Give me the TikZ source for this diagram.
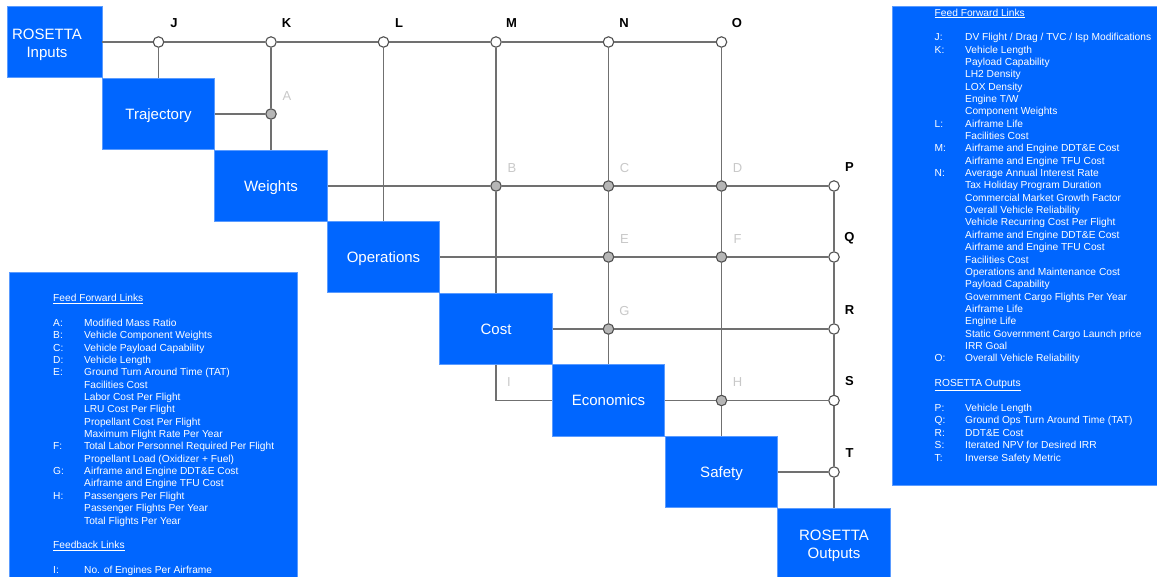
\documentclass[tikz,border=0pt]{standalone}
\usepackage{fontspec}
\setmainfont{Liberation Sans}
\definecolor{dsmblue}{RGB}{0,102,255}
\definecolor{edgeblue}{RGB}{90,155,255}
\definecolor{linkgray}{RGB}{112,112,112}
\definecolor{ringgray}{RGB}{80,80,80}
\definecolor{dotgray}{RGB}{182,182,182}
\definecolor{taggray}{RGB}{200,200,200}

\begin{document}
\begin{tikzpicture}[x=1pt,y=-1pt,
  blocktext/.style={text=white, font=\fontsize{15}{18}\selectfont, align=center,
    text height=12pt, text depth=1.26pt},
  twolines/.style={text height=30pt},
  block/.style={rectangle, fill=dsmblue, draw=edgeblue, line width=0.6pt,
    minimum width=112.5pt, minimum height=71.5pt, inner sep=0pt, blocktext},
  link/.style={draw=linkgray, line width=1.25pt},
  junction/.style={circle, minimum size=10.5pt, inner sep=0pt, draw=ringgray, line width=1.1pt},
  outjunc/.style={junction, fill=white},
  injunc/.style={junction, fill=dotgray},
  tagdark/.style={label={[font=\bfseries\fontsize{13}{15}\selectfont, text=black,
    anchor=center, xshift=15.5pt, yshift=19pt]center:#1}},
  taglight/.style={label={[font=\fontsize{13}{15}\selectfont, text=taggray,
    anchor=center, xshift=16pt, yshift=18pt]center:#1}},
  legendbox/.style={fill=dsmblue, draw=edgeblue, line width=0.8pt},
  legendtext/.style={text=white, inner sep=0pt, anchor=base west,
    font=\fontsize{10.2}{12.35}\selectfont},
]
\useasboundingbox (0,0) rectangle (1157,576);

% legend panels
\path[legendbox] (9.5,272) rectangle (297.5,590);
\path[legendbox] (892,6) rectangle (1170,485);

\node[legendtext] (leftlist) at (53,301.7) {%
\begin{tabular}[t]{@{}p{31pt}@{}l@{}}
\multicolumn{2}{@{}l@{}}{\underline{Feed Forward Links}}\\
&\\
A: & Modified Mass Ratio\\
B: & Vehicle Component Weights\\
C: & Vehicle Payload Capability\\
D: & Vehicle Length\\
E: & Ground Turn Around Time (TAT)\\
   & Facilities Cost\\
   & Labor Cost Per Flight\\
   & LRU Cost Per Flight\\
   & Propellant Cost Per Flight\\
   & Maximum Flight Rate Per Year\\
F: & Total Labor Personnel Required Per Flight\\
   & Propellant Load (Oxidizer + Fuel)\\
G: & Airframe and Engine DDT\&E Cost\\
   & Airframe and Engine TFU Cost\\
H: & Passengers Per Flight\\
   & Passenger Flights Per Year\\
   & Total Flights Per Year\\
&\\
\multicolumn{2}{@{}l@{}}{\underline{Feedback Links}}\\
&\\
I: & No. of Engines Per Airframe
\end{tabular}};

\node[legendtext] (rightlist) at (934.5,16) {%
\begin{tabular}[t]{@{}p{30.5pt}@{}l@{}}
\multicolumn{2}{@{}l@{}}{\underline{Feed Forward Links}}\\
&\\
J: & DV Flight / Drag / TVC / Isp Modifications\\
K: & Vehicle Length\\
   & Payload Capability\\
   & LH2 Density\\
   & LOX Density\\
   & Engine T/W\\
   & Component Weights\\
L: & Airframe Life\\
   & Facilities Cost\\
M: & Airframe and Engine DDT\&E Cost\\
   & Airframe and Engine TFU Cost\\
N: & Average Annual Interest Rate\\
   & Tax Holiday Program Duration\\
   & Commercial Market Growth Factor\\
   & Overall Vehicle Reliability\\
   & Vehicle Recurring Cost Per Flight\\
   & Airframe and Engine DDT\&E Cost\\
   & Airframe and Engine TFU Cost\\
   & Facilities Cost\\
   & Operations and Maintenance Cost\\
   & Payload Capability\\
   & Government Cargo Flights Per Year\\
   & Airframe Life\\
   & Engine Life\\
   & Static Government Cargo Launch price\\
   & IRR Goal\\
O: & Overall Vehicle Reliability\\
&\\
\multicolumn{2}{@{}l@{}}{\underline{ROSETTA Outputs}}\\
&\\
P: & Vehicle Length\\
Q: & Ground Ops Turn Around Time (TAT)\\
R: & DDT\&E Cost\\
S: & Iterated NPV for Desired IRR\\
T: & Inverse Safety Metric
\end{tabular}};

% discipline blocks along the diagonal
\node[block, minimum width=95pt] (inputs) at (54.5,42) {};
\node[blocktext, twolines] (inputstext) at (47,43) {ROSETTA\\Inputs};
\node[block] (traj)    at (158.5,114)   {Trajectory};
\node[block] (weights) at (271,186)     {Weights};
\node[block] (ops)     at (383.5,257)   {Operations};
\node[block] (cost)    at (496,329)     {Cost};
\node[block] (econ)    at (608.5,400.5) {Economics};
\node[block] (safety)  at (721.5,472)   {Safety};
\node[block, twolines] (outputs) at (834,544) {ROSETTA\\Outputs};

% junctions: open rings for inputs/outputs, grey dots for coupling links
\node[outjunc, tagdark=J] (J) at (158.5,42) {};
\node[outjunc, tagdark=K] (K) at (271,42) {};
\node[outjunc, tagdark=L] (L) at (383.5,42) {};
\node[outjunc, tagdark=M] (M) at (496,42) {};
\node[outjunc, tagdark=N] (N) at (608.5,42) {};
\node[outjunc, tagdark=O] (O) at (721.5,42) {};

\node[injunc, taglight=A] (A) at (271,114) {};
\node[injunc, taglight=B] (B) at (496,186) {};
\node[injunc, taglight=C] (C) at (608.5,186) {};
\node[injunc, taglight=D] (D) at (721.5,186) {};
\node[injunc, taglight=E] (E) at (608.5,257) {};
\node[injunc, taglight=F] (F) at (721.5,257) {};
\node[injunc, taglight=G] (G) at (608.5,329) {};
\node[injunc, taglight=H] (H) at (721.5,400.5) {};

\node[outjunc, tagdark=P] (P) at (834,186) {};
\node[outjunc, tagdark=Q] (Q) at (834,257) {};
\node[outjunc, tagdark=R] (R) at (834,329) {};
\node[outjunc, tagdark=S] (S) at (834,400.5) {};
\node[outjunc, tagdark=T] (T) at (834,472) {};

% feedback corner
\coordinate (Ibend) at (496,400.5);
\node[font=\fontsize{13}{15}\selectfont, text=taggray] (Itag) at (509,382) {I};

% feed-forward links
\draw[link] (inputs) -- (J) -- (K) -- (L) -- (M) -- (N) -- (O);
\draw[link] (J) -- (traj);
\draw[link] (traj) -- (A);
\draw[link] (K) -- (A) -- (weights);
\draw[link] (L) -- (ops);
\draw[link] (M) -- (B) -- (cost);
\draw[link] (N) -- (C) -- (E) -- (G) -- (econ);
\draw[link] (O) -- (D) -- (F) -- (H) -- (safety);
\draw[link] (P) -- (Q) -- (R) -- (S) -- (T) -- (outputs);
\draw[link] (weights) -- (B) -- (C) -- (D) -- (P);
\draw[link] (ops) -- (E) -- (F) -- (Q);
\draw[link] (cost) -- (G) -- (R);
\draw[link] (econ) -- (H) -- (S);
\draw[link] (safety) -- (T);
% feedback link
\draw[link] (cost) -- (Ibend) -- (econ);
\end{tikzpicture}
\end{document}
